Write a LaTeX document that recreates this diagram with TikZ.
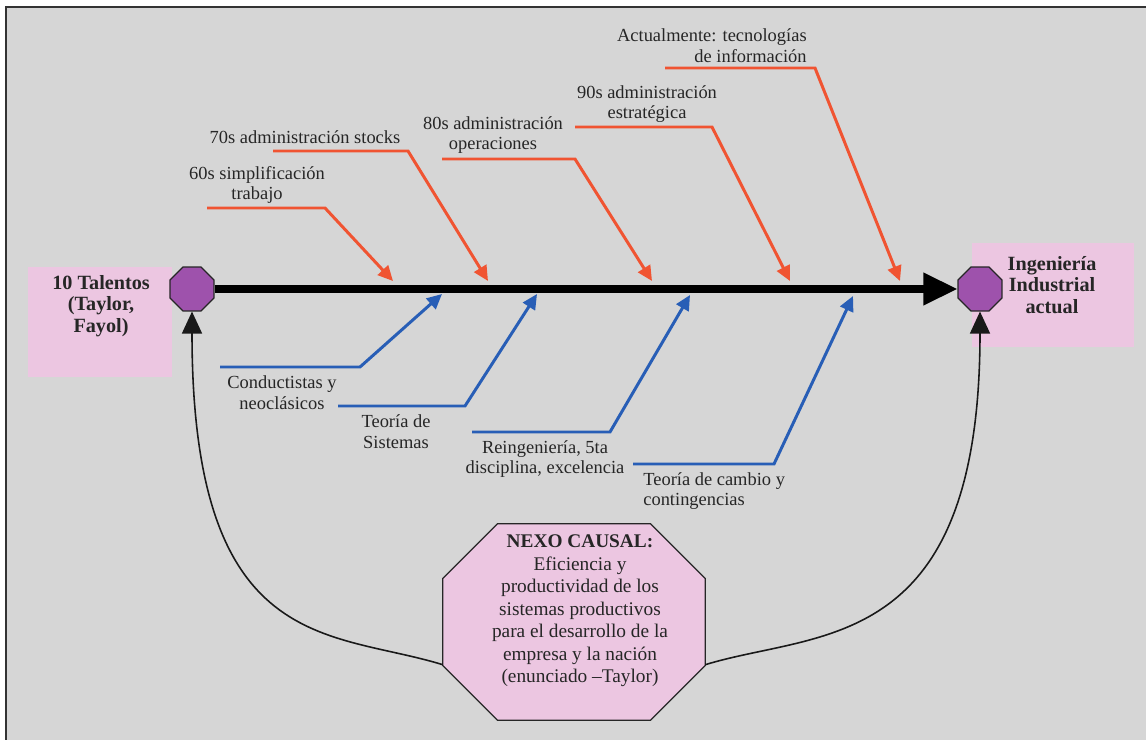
\documentclass[tikz,border=0pt]{standalone}
\usepackage{fontspec}
\setmainfont{Liberation Serif}
\usetikzlibrary{arrows.meta,shapes,positioning}
\definecolor{bggray}{RGB}{214,214,214}
\definecolor{pinkbox}{RGB}{236,198,225}
\definecolor{octpurple}{RGB}{158,82,172}
\definecolor{bonered}{RGB}{240,84,50}
\definecolor{boneblue}{RGB}{40,94,182}

\begin{document}
\begin{tikzpicture}[x=0.02cm,y=-0.02cm]

		\def\cham{1.1cm}

		\tikzset{lbl/.style={font=\fontsize{10.5}{11.8}\selectfont,align=center,inner sep=0pt,text=black!85}}
		\tikzset{bold/.style={font=\fontsize{11.5}{12.4}\selectfont\bfseries,align=center,inner sep=0pt,text=black!85}}
		\tikzset{oct/.style={draw=black!85,fill=octpurple,regular polygon,regular polygon sides=8,minimum size=0.95cm,inner sep=0pt,line width=0.7pt}}
		\tikzset{pinkrect/.style={rectangle,fill=pinkbox,inner sep=0pt}}
		\tikzset{spine/.style={draw,line width=4pt,-{Triangle[length=0.68cm,width=0.62cm]}}}
		\tikzset{redbone/.style={draw=bonered,line width=1.7pt,line join=miter,-{Triangle[length=0.3cm,width=0.28cm]}}}
		\tikzset{bluebone/.style={redbone,draw=boneblue}}
		\tikzset{link/.style={draw=black!90,line width=0.9pt,-{Triangle[length=0.44cm,width=0.4cm]}}}

		\useasboundingbox (0,0) rectangle (1146,740);
		\draw[draw=black!80,line width=1.2pt,fill=bggray] (6,7) rectangle (1170,760);

		% side boxes and octagons
		\node[pinkrect,minimum width=2.88cm,minimum height=2.2cm] (lbox) at (100,322) {};
		\node[pinkrect,minimum width=3.26cm,minimum height=2.08cm] (rbox) at (1053,295) {};
		\node[bold] (ltxt) at (101,306) {10 Talentos\\(Taylor,\\Fayol)};
		\node[bold] (rtxt) at (1052,285) {Ingeniería\\Industrial\\actual};

		\node[oct] (ltal) at (192,289) {};
		\node[oct] (rtal) at (980,289) {};

		\path[spine] (ltal) -- (rtal);

		% top bones: start/bend/tip
		\coordinate (a60) at (207,208); \coordinate (b60) at (325,208); \coordinate (t60) at (393,281);
		\coordinate (a70) at (273,151); \coordinate (b70) at (408,151); \coordinate (t70) at (488,281);
		\coordinate (a80) at (442,159); \coordinate (b80) at (575,159); \coordinate (t80) at (652,281);
		\coordinate (a90) at (575,127); \coordinate (b90) at (712,127); \coordinate (t90) at (790,281);
		\coordinate (aact) at (665,68); \coordinate (bact) at (815,68); \coordinate (tact) at (900,281);

		\node[lbl] (l60) at (257,185) {60s simplificación\\trabajo};
		\node[lbl] (l70) at (305,137) {70s administración stocks};
		\node[lbl] (l80) at (493,135) {80s administración\\operaciones};
		\node[lbl] (l90) at (647,104) {90s administración\\estratégica};
		\node[lbl,align=right,anchor=east] (lact) at (807,46) {Actualmente: tecnologías\\de información};

		\path[redbone] (a60) -- (b60) -- (t60);
		\path[redbone] (a70) -- (b70) -- (t70);
		\path[redbone] (a80) -- (b80) -- (t80);
		\path[redbone] (a90) -- (b90) -- (t90);
		\path[redbone] (aact) -- (bact) -- (tact);

		% bottom bones
		\coordinate (acon) at (220,367); \coordinate (bcon) at (360,367); \coordinate (tcon) at (442,294);
		\coordinate (asis) at (338,406); \coordinate (bsis) at (465,406); \coordinate (tsis) at (537,294);
		\coordinate (arei) at (472,432); \coordinate (brei) at (610,432); \coordinate (trei) at (690,295);
		\coordinate (acam) at (633,464); \coordinate (bcam) at (774,464); \coordinate (tcam) at (853,296);

		\node[lbl] (lcon) at (282,393) {Conductistas y\\neoclásicos};
		\node[lbl] (lsis) at (396,432) {Teoría de\\Sistemas};
		\node[lbl] (lrei) at (545,459) {Reingeniería, 5ta\\disciplina, excelencia};
		\node[lbl,align=left,anchor=west] (lcam) at (643,491) {Teoría de cambio y\\contingencias};

		\path[bluebone] (acon) -- (bcon) -- (tcon);
		\path[bluebone] (asis) -- (bsis) -- (tsis);
		\path[bluebone] (arei) -- (brei) -- (trei);
		\path[bluebone] (acam) -- (bcam) -- (tcam);

		% causal link: octagon cut from the node's corners
		\node[rectangle,inner sep=0pt,minimum width=5.24cm,minimum height=3.92cm] (nexo) at (574,622) {};
		\draw[draw=black!85,fill=pinkbox,line width=0.7pt]
			([xshift=\cham]nexo.north west) -- ([xshift=-\cham]nexo.north east)
			-- ([yshift=-\cham]nexo.north east) -- ([yshift=\cham]nexo.south east)
			-- ([xshift=-\cham]nexo.south east) -- ([xshift=\cham]nexo.south west)
			-- ([yshift=\cham]nexo.south west) -- ([yshift=-\cham]nexo.north west) -- cycle;
		\node[lbl,font=\fontsize{11}{12.8}\selectfont] (nexotxt) at (580,611) {\textbf{NEXO CAUSAL:}\\Eficiencia y\\productividad de los\\sistemas productivos\\para el desarrollo de la\\empresa y la nación\\(enunciado --Taylor)};

		\path[link] (nexo.198) .. controls (330,630) and (192,655) .. (ltal.south);
		\path[link] (nexo.-18) .. controls (818,630) and (980,655) .. (rtal.south);

	\end{tikzpicture}
\end{document}
